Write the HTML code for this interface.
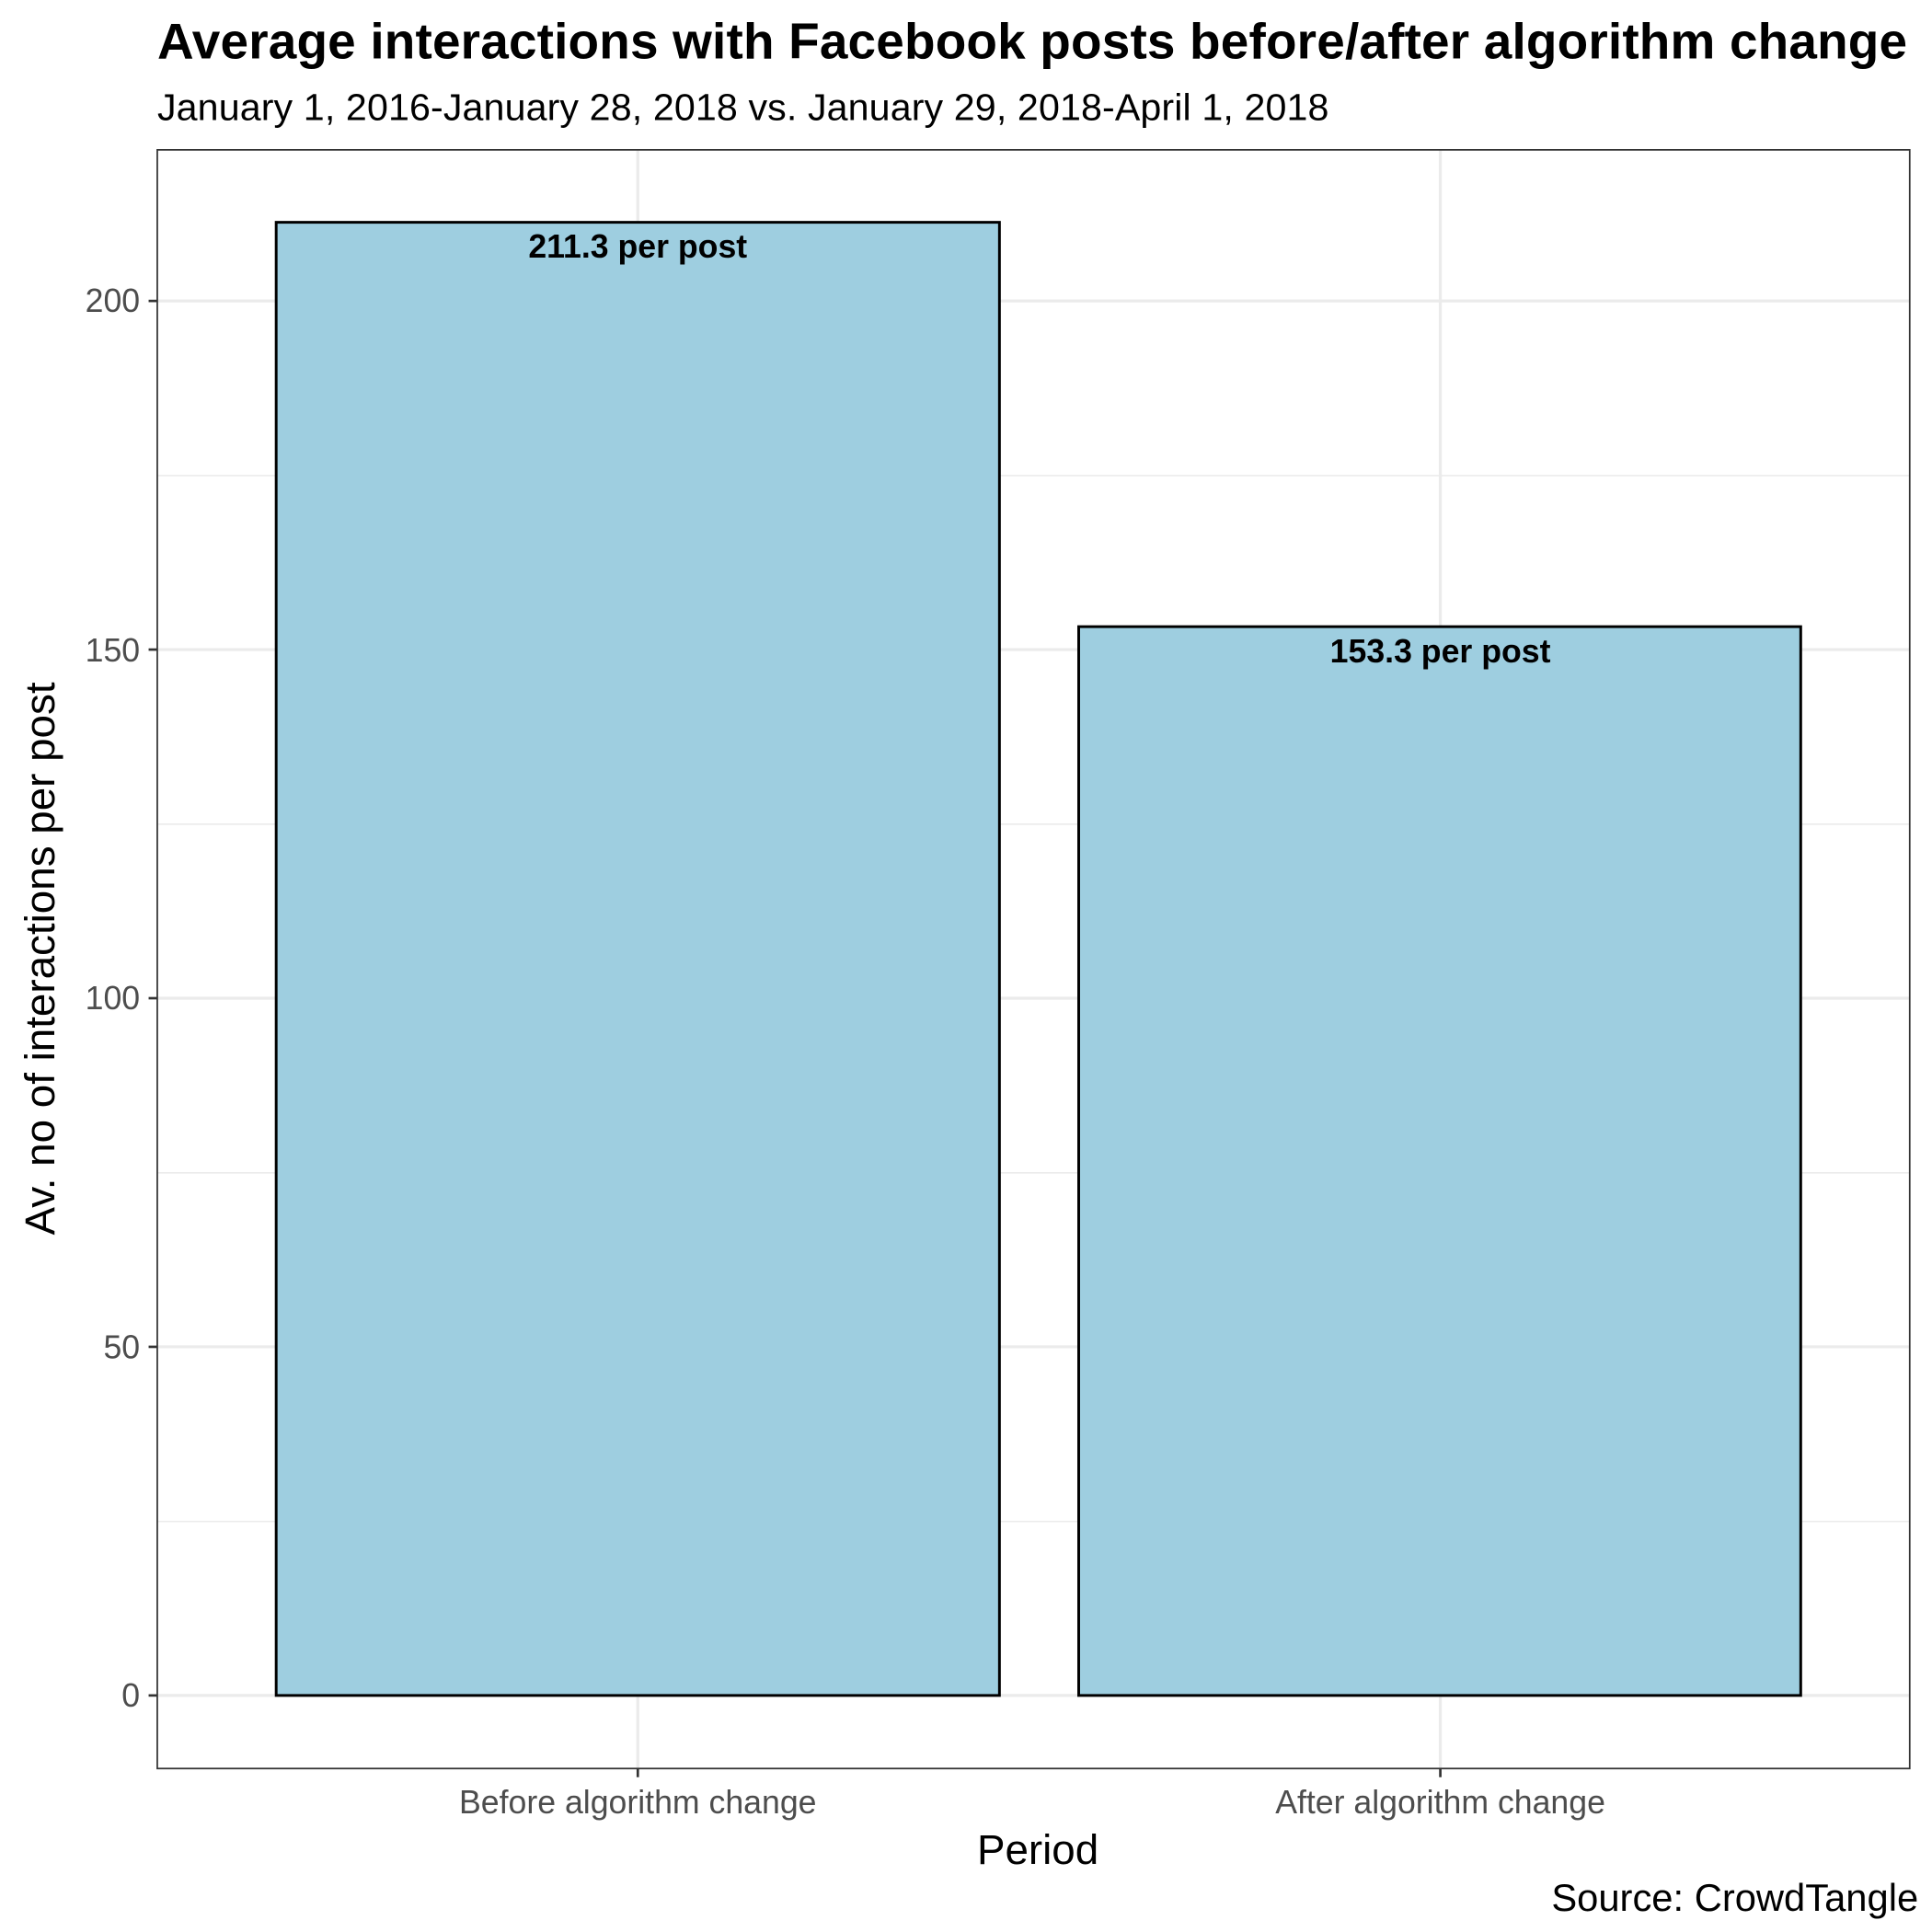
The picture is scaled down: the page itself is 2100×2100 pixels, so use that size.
<!DOCTYPE html>
<html><head><meta charset="utf-8"><style>html,body{margin:0;padding:0;background:#fff}svg{display:block}</style></head>
<body>
<svg width="2100" height="2100" viewBox="0 0 1560 1560" xmlns="http://www.w3.org/2000/svg" font-family="Liberation Sans, Arial, sans-serif">
<rect width="1560" height="1560" fill="#fff"/>
<text x="127" y="47" font-size="40.8" font-weight="bold" fill="#000" textLength="1413">Average interactions with Facebook posts before/after algorithm change</text>
<text x="127" y="97" font-size="30.6" fill="#000" textLength="946">January 1, 2016-January 28, 2018 vs. January 29, 2018-April 1, 2018</text>
<g stroke="#ebebeb" stroke-width="1.2">
<line x1="127" x2="1542" y1="1228.5" y2="1228.5"/><line x1="127" x2="1542" y1="947" y2="947"/>
<line x1="127" x2="1542" y1="665.5" y2="665.5"/><line x1="127" x2="1542" y1="384" y2="384"/>
</g>
<g stroke="#ebebeb" stroke-width="2.4">
<line x1="127" x2="1542" y1="1369" y2="1369"/><line x1="127" x2="1542" y1="1087.5" y2="1087.5"/>
<line x1="127" x2="1542" y1="806" y2="806"/><line x1="127" x2="1542" y1="524.5" y2="524.5"/>
<line x1="127" x2="1542" y1="243" y2="243"/>
<line x1="515" x2="515" y1="121" y2="1428"/><line x1="1163" x2="1163" y1="121" y2="1428"/>
</g>
<rect x="223" y="179.5" width="584" height="1189.5" fill="#9ecee0" stroke="#000" stroke-width="2.2"/>
<rect x="871" y="506" width="583" height="863" fill="#9ecee0" stroke="#000" stroke-width="2.2"/>
<text x="515" y="208" font-size="26.5" font-weight="bold" text-anchor="middle">211.3 per post</text>
<text x="1163" y="535" font-size="26.5" font-weight="bold" text-anchor="middle">153.3 per post</text>
<rect x="127" y="121" width="1415" height="1307" fill="none" stroke="#333" stroke-width="1.3"/>
<g stroke="#333" stroke-width="2">
<line x1="120" x2="127" y1="1369" y2="1369"/><line x1="120" x2="127" y1="1087.5" y2="1087.5"/>
<line x1="120" x2="127" y1="806" y2="806"/><line x1="120" x2="127" y1="524.5" y2="524.5"/>
<line x1="120" x2="127" y1="243" y2="243"/>
<line x1="515" x2="515" y1="1428" y2="1435"/><line x1="1163" x2="1163" y1="1428" y2="1435"/>
</g>
<g font-size="26.5" fill="#4d4d4d" text-anchor="end">
<text x="113" y="1378">0</text><text x="113" y="1097">50</text><text x="113" y="815">100</text>
<text x="113" y="534">150</text><text x="113" y="252">200</text>
</g>
<g font-size="26.5" fill="#4d4d4d" text-anchor="middle">
<text x="515" y="1464">Before algorithm change</text><text x="1163" y="1464">After algorithm change</text>
</g>
<text x="838" y="1505" font-size="34" text-anchor="middle">Period</text>
<text transform="translate(44,774) rotate(-90)" font-size="34" text-anchor="middle">Av. no of interactions per post</text>
<text x="1549" y="1543" font-size="31" text-anchor="end">Source: CrowdTangle</text>
</svg>
</body></html>
